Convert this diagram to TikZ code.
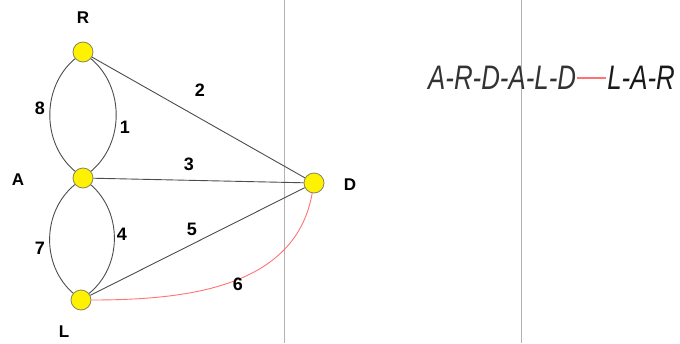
\documentclass[tikz,border=0pt]{standalone}
\usepackage{fontspec}
\setmainfont{Liberation Sans}
\begin{document}
\begin{tikzpicture}[x=1pt,y=-1pt,
  vtx/.style={circle,draw=black!55!yellow!70!gray,fill=yellow,minimum size=20pt,inner sep=0pt,line width=0.8pt},
  edge/.style={draw=black!70,line width=0.9pt},
  redge/.style={draw=red!55!white,line width=0.9pt},
  vlabel/.style={font=\bfseries\fontsize{17}{17}\selectfont},
  elabel/.style={font=\bfseries\fontsize{18}{18}\selectfont},
  ptext/.style={inner sep=0pt,font=\itshape\fontsize{34}{34}\selectfont},
  guide/.style={draw=black!30,line width=0.6pt}]
\useasboundingbox (0,0) rectangle (680,343);
\coordinate (g1t) at (284,0); \coordinate (g1b) at (284,343);
\coordinate (g2t) at (521,0); \coordinate (g2b) at (521,343);
\draw[guide] (g1t) -- (g1b);
\draw[guide] (g2t) -- (g2b);
\node[vtx] (R) at (83,52) {};
\node[vtx] (A) at (83,178) {};
\node[vtx] (L) at (81,300) {};
\node[vtx] (D) at (314,183) {};
\draw[edge] (R) to[bend right=50] (A);
\draw[edge] (R) to[bend left=50] (A);
\draw[edge] (A) to[bend right=50] (L);
\draw[edge] (A) to[bend left=50] (L);
\draw[edge] (R) -- (D);
\draw[edge] (A) -- (D);
\draw[edge] (L) -- (D);
\draw[redge] (L) to[out=0,in=-100] (D);
\node[vlabel] (lR) at (83,18) {R};
\node[vlabel] (lA) at (18,180) {A};
\node[vlabel] (lL) at (64,332) {L};
\node[vlabel] (lD) at (350,185) {D};
\node[elabel] (e8) at (40,108) {8};
\node[elabel] (e1) at (125,127) {1};
\node[elabel] (e2) at (200,90) {2};
\node[elabel] (e3) at (189,164) {3};
\node[elabel] (e4) at (122,234) {4};
\node[elabel] (e5) at (192,229) {5};
\node[elabel] (e6) at (238,284) {6};
\node[elabel] (e7) at (40,248) {7};
\node[ptext,anchor=west,text=black!80] (p1) at (428,78) {\scalebox{0.76}[1]{A-R-D-A-L-D}};
\node[ptext,anchor=east,text=black!90] (p2) at (675,78) {\scalebox{0.76}[1]{L-A-R}};
\draw[redge,line width=1.2pt] ([xshift=1pt]p1.east) -- ([xshift=-1pt]p2.west);
\end{tikzpicture}
\end{document}
